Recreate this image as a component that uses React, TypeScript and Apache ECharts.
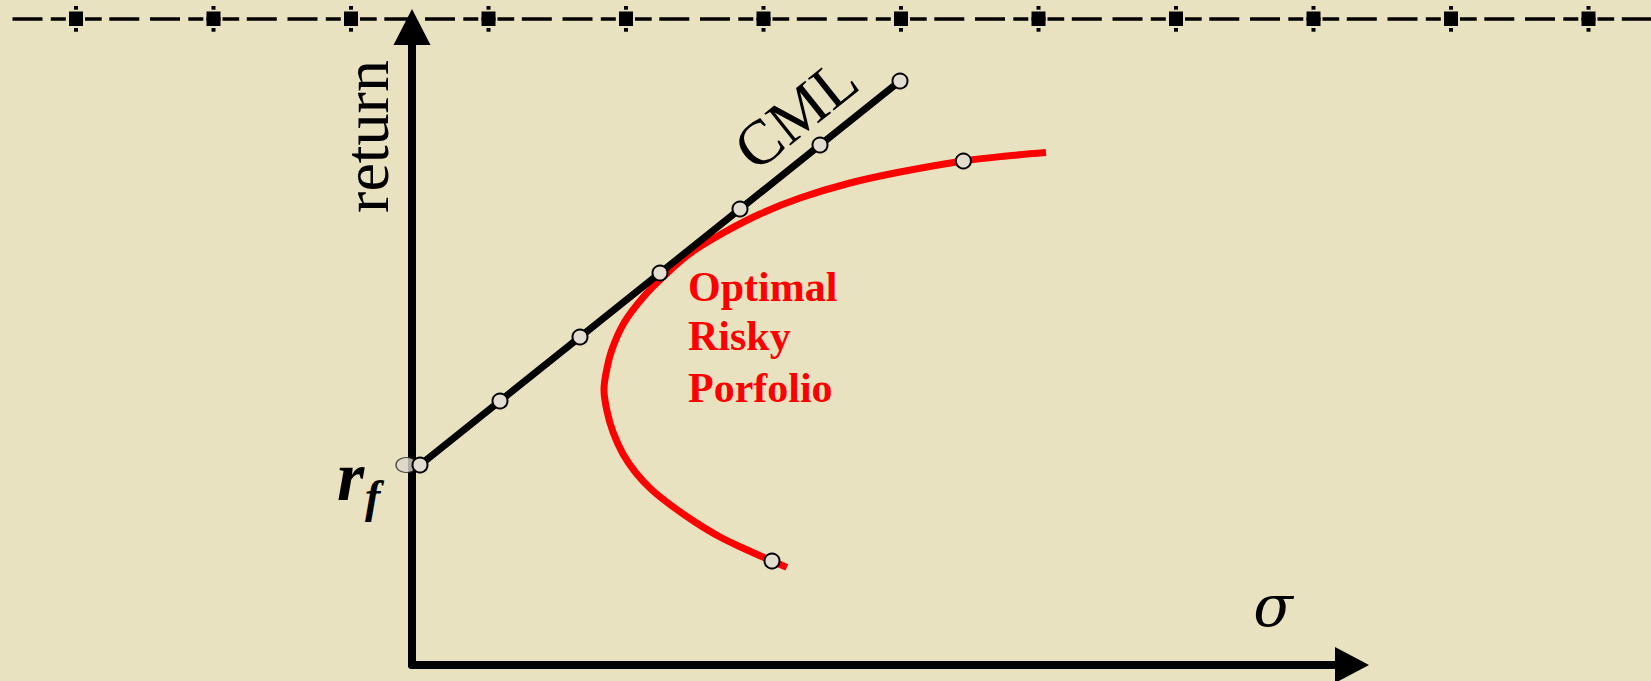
import { useEffect, useRef } from "react";
import * as echarts from "echarts";

// Axis extents (σ across, expected return up)
const SIGMA_MAX = 47;
const RETURN_MAX = 31.9;

// Capital market line, starting at the risk-free rate; the last point is the
// bare line end past the top marker
const cmlSigma = [0.4, 4.4, 8.4, 12.4, 16.4, 20.4, 24.4, 24.67];
const cmlReturn = [10, 13.2, 16.4, 19.6, 22.8, 26.0, 29.2, 29.42];
const cmlMarked = [0, 1, 2, 3, 4, 5, 6];

// Efficient frontier of risky assets, traced from its low end upwards
const frontierSigma = [
  18.74, 18.0, 16.65, 15.4, 14.15, 13.0, 12.0, 11.2, 10.55, 10.05, 9.75, 9.6,
  9.7, 9.99, 10.59, 11.59, 12.6, 13.9, 15.55, 17.4, 19.4, 21.9, 24.4, 27.57,
  29.74, 31.7,
];
const frontierReturn = [
  4.88, 5.2, 5.8, 6.4, 7.15, 7.95, 8.75, 9.6, 10.55, 11.65, 12.7, 13.75, 14.59,
  15.75, 17.09, 18.42, 19.45, 20.58, 21.6, 22.55, 23.35, 24.1, 24.65, 25.2,
  25.45, 25.62,
];
// Frontier points that carry a marker
const frontierMarked = [1, 23];

const riskFreeRate = cmlReturn[0];

const PAPER = "#E9E2C1";
const MARKER_FILL = "#E2DDCE";
const SERIF = '"Liberation Serif", "Times New Roman", serif';

// Dashed header rule with square knots
const RULE_Y = 19;
const RULE_START = 12.5;
const RULE_PERIOD = 137.5;
const RULE_FIRST_KNOT = 76;
const RULE_KNOTS = 12;
const RULE_DASH = [30, 8.3, 15, 3.2, 14, 2, 16.7, 7.6, 30, 10.7];

function headerRule(): any[] {
  const els: any[] = [
    {
      type: "line",
      shape: { x1: RULE_START, y1: RULE_Y, x2: 1660, y2: RULE_Y },
      style: { stroke: "#000", lineWidth: 3.4, lineDash: RULE_DASH },
      silent: true,
      z: 5,
    },
  ];
  for (let k = 0; k < RULE_KNOTS; k++) {
    const c = RULE_FIRST_KNOT + RULE_PERIOD * k;
    els.push(
      {
        type: "rect",
        shape: { x: c - 7, y: RULE_Y - 7.5, width: 14, height: 14.5 },
        style: { fill: "#000" },
        silent: true,
        z: 5,
      },
      {
        type: "rect",
        shape: { x: c - 2, y: RULE_Y - 13, width: 4, height: 3.7 },
        style: { fill: "#000" },
        silent: true,
        z: 5,
      },
      {
        type: "rect",
        shape: { x: c - 2, y: RULE_Y + 9, width: 4, height: 3.7 },
        style: { fill: "#000" },
        silent: true,
        z: 5,
      }
    );
  }
  return els;
}

function label(
  text: string,
  x: number,
  y: number,
  size: number,
  opts: {
    color?: string;
    weight?: string;
    italic?: boolean;
    align?: string;
    rotation?: number;
    family?: string;
  } = {}
) {
  return {
    type: "text",
    x,
    y,
    rotation: opts.rotation || 0,
    silent: true,
    z: 10,
    style: {
      text,
      fill: opts.color || "#000",
      fontFamily: opts.family || SERIF,
      fontSize: size,
      fontWeight: opts.weight || "normal",
      fontStyle: opts.italic ? "italic" : "normal",
      textAlign: opts.align || "left",
      textVerticalAlign: "middle",
    },
  };
}

const hiddenAxisParts = {
  axisTick: { show: false },
  axisLabel: { show: false },
  splitLine: { show: false },
};

export default function App() {
  const ref = useRef<HTMLDivElement>(null);

  useEffect(() => {
    if (!ref.current) return;
    const chart = echarts.init(ref.current, null, { renderer: "svg" });

    const option: any = {
      animation: false,
      backgroundColor: PAPER,
      grid: { left: 412, right: 299, top: 27, bottom: 16, containLabel: false },
      xAxis: {
        type: "value",
        min: 0,
        max: SIGMA_MAX,
        axisLine: {
          show: true,
          onZero: false,
          symbol: ["none", "triangle"],
          symbolSize: [36, 34],
          lineStyle: { color: "#000", width: 8 },
        },
        ...hiddenAxisParts,
      },
      yAxis: {
        type: "value",
        min: 0,
        max: RETURN_MAX,
        axisLine: {
          show: true,
          onZero: false,
          symbol: ["none", "triangle"],
          symbolSize: [37, 36],
          lineStyle: { color: "#000", width: 8 },
        },
        ...hiddenAxisParts,
      },
      series: [
        {
          type: "line",
          name: "Optimal Risky Porfolio",
          data: frontierSigma.map((s, i) => ({
            value: [s, frontierReturn[i]],
            symbol: frontierMarked.includes(i) ? "circle" : "none",
          })),
          smooth: 0.35,
          symbol: "circle",
          symbolSize: 15,
          showSymbol: true,
          lineStyle: { color: "#FF0000", width: 7, cap: "butt" },
          itemStyle: { color: MARKER_FILL, borderColor: "#000", borderWidth: 2 },
          emphasis: { disabled: true },
          silent: true,
          clip: false,
          z: 2,
        },
        {
          type: "scatter",
          name: "rf",
          data: [[cmlSigma[0], riskFreeRate]],
          symbol: "circle",
          symbolSize: [21, 15],
          symbolOffset: [-13.5, 0],
          itemStyle: { color: "#DCD7CC", borderColor: "#222", borderWidth: 1.2 },
          emphasis: { disabled: true },
          silent: true,
          clip: false,
          z: 2,
        },
        {
          type: "line",
          name: "CML",
          data: cmlSigma.map((s, i) => ({
            value: [s, cmlReturn[i]],
            symbol: cmlMarked.includes(i) ? "circle" : "none",
          })),
          symbol: "circle",
          symbolSize: 15,
          showSymbol: true,
          lineStyle: { color: "#000", width: 7, cap: "butt" },
          itemStyle: { color: MARKER_FILL, borderColor: "#000", borderWidth: 2 },
          emphasis: { disabled: true },
          silent: true,
          clip: false,
          z: 3,
        },
      ],
      graphic: [
        ...headerRule(),
        label("return", 366.4, 136.5, 64, { align: "center", rotation: Math.PI / 2 }),
        label("CML", 796, 114, 63, { align: "center", rotation: 0.675 }),
        label("Optimal", 688, 286.8, 42, { color: "#FF0000", weight: "bold" }),
        label("Risky", 688, 335.8, 42, { color: "#FF0000", weight: "bold" }),
        label("Porfolio", 688, 387.8, 42, { color: "#FF0000", weight: "bold" }),
        label("r", 337, 476, 70, { weight: "bold", italic: true }),
        label("f", 365, 496, 46, { weight: "bold", italic: true }),
        label("σ", 1273, 606, 58, {
          align: "center",
          italic: true,
          family: '"DejaVu Serif", serif',
        }),
      ],
    };

    chart.setOption(option);
    return () => chart.dispose();
  }, []);

  return (
    <div
      ref={ref}
      style={{ position: "fixed", left: 0, top: 0, width: 1651, height: 681, background: PAPER }}
    />
  );
}
